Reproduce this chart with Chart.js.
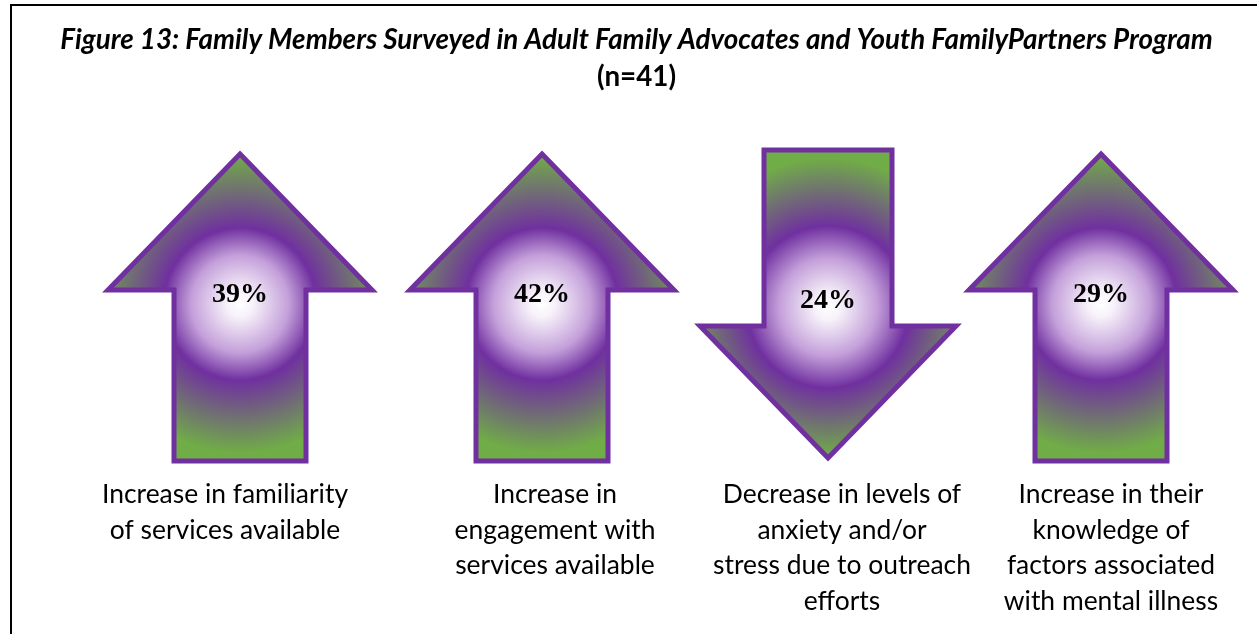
<!DOCTYPE html>
<html>
<head>
<meta charset="utf-8">
<script src="https://cdn.jsdelivr.net/npm/chart.js@4.4.1/dist/chart.umd.min.js"></script>
<style>
  html, body { margin: 0; padding: 0; background: #ffffff; overflow: hidden; }
  canvas { display: block; }
</style>
</head>
<body>
<canvas id="figure" width="1257" height="634"></canvas>
<script>
// Figure text and survey results
const titleLines = [
  'Figure 13: Family Members Surveyed in Adult Family Advocates and Youth FamilyPartners Program',
  '(n=41)'
];
const categories = [
  ['Increase in familiarity', 'of services available'],
  ['Increase in', 'engagement with', 'services available'],
  ['Decrease in levels of', 'anxiety and/or', 'stress due to outreach', 'efforts'],
  ['Increase in their', 'knowledge of', 'factors associated', 'with mental illness']
];
const percentages = [39, 42, 24, 29];
const directions = ['up', 'up', 'down', 'up'];

const PURPLE = '#7030a0';
const GREEN = '#70ad47';

// Pick a font size so that a sample string takes the given width
function fitSize(ctx, text, style, family, base, width) {
  ctx.font = style + ' ' + base + 'px ' + family;
  return base * width / ctx.measureText(text).width;
}

// Frame and heading
const framePlugin = {
  id: 'frame',
  afterDraw(chart) {
    const ctx = chart.ctx;
    ctx.save();
    ctx.fillStyle = '#000000';
    ctx.fillRect(10, 4, chart.width - 10, 2);
    ctx.fillRect(10, 4, 2, chart.height - 4);

    const fam = 'Lato, "Open Sans", sans-serif';
    const size = fitSize(ctx, titleLines[0], 'italic bold', fam, 24, 1153);
    ctx.textAlign = 'center';
    ctx.textBaseline = 'alphabetic';
    ctx.font = 'italic bold ' + size.toFixed(2) + 'px ' + fam;
    ctx.fillText(titleLines[0], 636.5, 49);
    ctx.font = 'bold ' + size.toFixed(2) + 'px ' + fam;
    ctx.fillText(titleLines[1], 636.5, 86);
    ctx.restore();
  }
};

// Block arrows with radial fill, value in the middle and caption below
const arrowPlugin = {
  id: 'arrows',
  afterDatasetsDraw(chart, args, opts) {
    const ctx = chart.ctx;
    const area = chart.chartArea;
    const meta = chart.getDatasetMeta(0);
    const ds = chart.data.datasets[0];

    meta.data.forEach((bar, i) => {
      const cx = bar.x + opts.arrowShift[i];
      const up = directions[i] === 'up';
      const top = area.top, bottom = area.bottom;
      ctx.save();
      ctx.beginPath();
      let gy, textY;
      if (up) {
        const tip = top + 4, head = top + 140, base = bottom;
        const hw = 132, sw = 66;
        ctx.moveTo(cx, tip);
        ctx.lineTo(cx + hw, head);
        ctx.lineTo(cx + sw, head);
        ctx.lineTo(cx + sw, base);
        ctx.lineTo(cx - sw, base);
        ctx.lineTo(cx - sw, head);
        ctx.lineTo(cx - hw, head);
        ctx.closePath();
        gy = head + 14;
        textY = head + 12;
      } else {
        const start = top, head = top + 176, tip = bottom - 3;
        const hw = 128, sw = 64;
        ctx.moveTo(cx - sw, start);
        ctx.lineTo(cx + sw, start);
        ctx.lineTo(cx + sw, head);
        ctx.lineTo(cx + hw, head);
        ctx.lineTo(cx, tip);
        ctx.lineTo(cx - hw, head);
        ctx.lineTo(cx - sw, head);
        ctx.closePath();
        gy = head - 19;
        textY = head - 18;
      }
      const g = ctx.createRadialGradient(cx, gy, 0, cx, gy, 162);
      g.addColorStop(0, '#ffffff');
      g.addColorStop(0.08, '#f7f2fa');
      g.addColorStop(0.3, '#c4a0da');
      g.addColorStop(up ? 0.47 : 0.5, PURPLE);
      g.addColorStop(0.92, GREEN);
      g.addColorStop(1, GREEN);
      ctx.fillStyle = g;
      ctx.fill();
      ctx.lineWidth = 5;
      ctx.lineJoin = 'miter';
      ctx.strokeStyle = PURPLE;
      ctx.stroke();

      ctx.fillStyle = '#000000';
      ctx.textAlign = 'center';
      ctx.textBaseline = 'alphabetic';
      ctx.font = 'bold 28px "Liberation Serif", "DejaVu Serif", serif';
      ctx.fillText(ds.data[i] + '%', cx, textY);

      // caption
      const fam = 'Lato, "Open Sans", sans-serif';
      const size = fitSize(ctx, 'Increase in familiarity', '', fam, 24, 246);
      ctx.font = size.toFixed(2) + 'px ' + fam;
      const lx = bar.x + opts.captionShift[i];
      chart.data.labels[i].forEach((line, k) => {
        ctx.fillText(line, lx, 503 + k * 35.5);
      });
      ctx.restore();
    });
  }
};

new Chart(document.getElementById('figure'), {
  type: 'bar',
  data: {
    labels: categories,
    datasets: [{
      data: percentages,
      backgroundColor: 'rgba(0,0,0,0)',
      borderWidth: 0
    }]
  },
  options: {
    responsive: false,
    animation: false,
    events: [],
    layout: { padding: { top: 150, bottom: 173, left: 96.5, right: 12.5 } },
    scales: {
      x: { display: false },
      y: { display: false, min: 0, max: 100 }
    },
    plugins: {
      legend: { display: false },
      tooltip: { enabled: false },
      title: { display: false },
      arrows: {
        arrowShift: [0, 15, 14, 0],
        captionShift: [-15, 28, 28, 10]
      }
    }
  },
  plugins: [framePlugin, arrowPlugin]
});
</script>
</body>
</html>
